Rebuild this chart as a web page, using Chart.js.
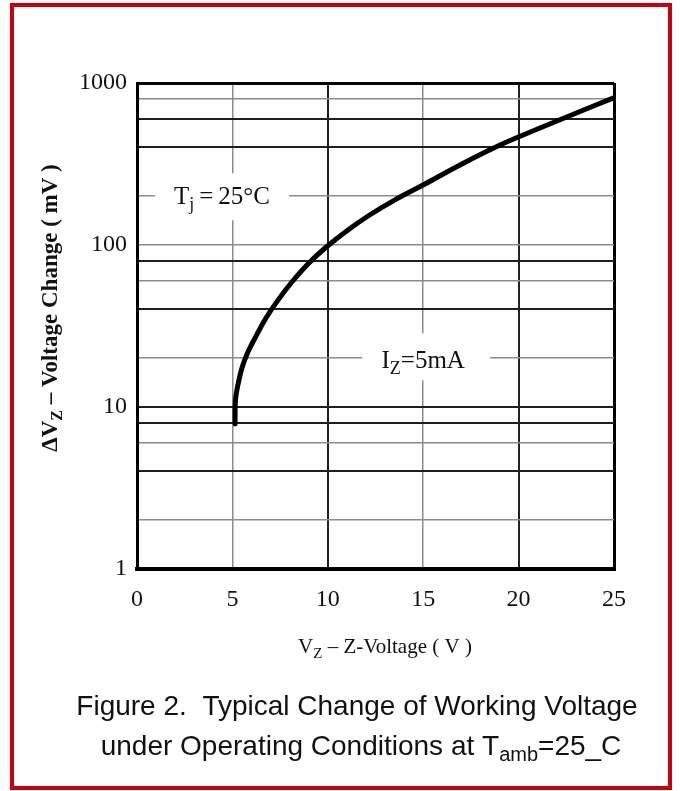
<!DOCTYPE html>
<html>
<head>
<meta charset="utf-8">
<script src="https://cdn.jsdelivr.net/npm/chart.js@4/dist/chart.umd.min.js"></script>
<style>
  html, body { margin: 0; padding: 0; background: #fff; }
  #wrap { position: relative; width: 680px; height: 791px; }
  canvas { display: block; }
</style>
</head>
<body>
<div id="wrap"><canvas id="c" width="680" height="791"></canvas></div>
<script>
// ---- data ----
const zenerVoltage = [5.14, 5.16, 5.29, 5.50, 5.82, 6.24, 6.76, 7.39, 8.12, 8.96, 9.86, 10.90, 12.11, 13.52, 15.09, 16.93, 19.03, 21.12, 23.22, 24.95];
const voltageChange = [7.85, 11.0, 13.7, 17.4, 21.9, 27.4, 35.4, 45.7, 59.1, 76.4, 95.8, 120, 151, 190, 238, 312, 414, 527, 667, 807];

const xTickValues = [0, 5, 10, 15, 20, 25];
const yGridValues = [1, 2, 4, 6, 8, 10, 20, 40, 60, 80, 100, 200, 400, 600, 800, 1000];
const yLabelValues = [1, 10, 100, 1000];

const yTitleParts = [{t: 'ΔV'}, {t: 'Z', sub: true}, {t: ' – Voltage Change ( mV )'}];
const xTitleParts = [{t: 'V'}, {t: 'Z', sub: true}, {t: ' – Z-Voltage ( V )'}];
const tjLabelParts = [{t: 'T'}, {t: 'j', sub: true}, {t: '\u2009=\u200925°C'}];
const izLabelParts = [{t: 'I'}, {t: 'Z', sub: true}, {t: '=5mA'}];
const captionLine1 = [{t: 'Figure 2.  Typical Change of Working Voltage'}];
const captionLine2 = [{t: 'under Operating Conditions at T'}, {t: 'amb', sub: true}, {t: '=25_C'}];

const darkY = [4, 8, 10, 40, 80, 400, 600];
const darkX = [10, 20];

const SERIF = '"Liberation Serif", "Times New Roman", serif';
const SANS = '"Liberation Sans", Arial, sans-serif';

function richWidth(ctx, parts, size, family, weight) {
  let w = 0;
  for (const p of parts) {
    const s = p.sub ? Math.round(size * 0.7) : size;
    ctx.font = `${weight} ${s}px ${family}`;
    w += ctx.measureText(p.t).width;
  }
  return w;
}
function drawRich(ctx, parts, x, y, size, family, weight, color) {
  const w = richWidth(ctx, parts, size, family, weight);
  let cx = x - w / 2;
  ctx.textAlign = 'left';
  ctx.textBaseline = 'alphabetic';
  ctx.fillStyle = color;
  for (const p of parts) {
    const s = p.sub ? Math.round(size * 0.7) : size;
    ctx.font = `${weight} ${s}px ${family}`;
    ctx.fillText(p.t, cx, y + (p.sub ? size * 0.22 : 0));
    cx += ctx.measureText(p.t).width;
  }
}

const decorPlugin = {
  id: 'decor',
  beforeDraw(chart) {
    const ctx = chart.ctx;
    ctx.save();
    ctx.fillStyle = '#fff';
    ctx.fillRect(0, 0, chart.width, chart.height);
    ctx.restore();
  },
  afterDraw(chart) {
    const ctx = chart.ctx;
    const xs = chart.scales.x, ys = chart.scales.y;
    ctx.save();
    // annotation labels with white backing boxes
    const tjX = xs.getPixelForValue(4.45), tjY = ys.getPixelForValue(200);
    ctx.fillStyle = '#fff';
    ctx.fillRect(tjX - 67, tjY - 23, 134, 47);
    drawRich(ctx, tjLabelParts, tjX, tjY + 8, 25, SERIF, 'normal', '#111');
    const izX = xs.getPixelForValue(15), izY = ys.getPixelForValue(20);
    ctx.fillStyle = '#fff';
    ctx.fillRect(izX - 61, izY - 25, 128, 47);
    drawRich(ctx, izLabelParts, izX, izY + 10, 25, SERIF, 'normal', '#111');

    // axis titles
    drawRich(ctx, xTitleParts, 385, 653, 21, SERIF, 'normal', '#111');
    ctx.save();
    ctx.translate(57, 308);
    ctx.rotate(-Math.PI / 2);
    drawRich(ctx, yTitleParts, 0, 0, 23, SERIF, 'bold', '#111');
    ctx.restore();

    // caption
    drawRich(ctx, captionLine1, 357, 715, 28, SANS, 'normal', '#111');
    drawRich(ctx, captionLine2, 361, 755, 28, SANS, 'normal', '#111');

    // red frame
    ctx.strokeStyle = '#c8000a';
    ctx.lineWidth = 4;
    ctx.strokeRect(12, 5, 658, 783);
    ctx.restore();
  }
};

new Chart(document.getElementById('c'), {
  type: 'line',
  data: {
    datasets: [{
      data: zenerVoltage.map((v, i) => ({x: v, y: voltageChange[i]})),
      borderColor: '#000',
      borderWidth: 5,
      pointRadius: 0,
      tension: 0.4,
      borderCapStyle: 'round',
      borderJoinStyle: 'round',
      fill: false
    }]
  },
  options: {
    responsive: false,
    devicePixelRatio: 1,
    animation: false,
    layout: { padding: { top: 83, right: 66, bottom: 0, left: 0 } },
    plugins: { legend: { display: false }, tooltip: { enabled: false }, title: { display: false } },
    scales: {
      x: {
        type: 'linear',
        min: 0, max: 25,
        afterBuildTicks(scale) { scale.ticks = xTickValues.map(v => ({value: v})); },
        afterFit(scale) { scale.height = 222; },
        ticks: {
          autoSkip: false, maxRotation: 0, padding: 16,
          color: '#111',
          font: { family: SERIF, size: 24 },
          callback: v => String(v)
        },
        grid: {
          drawTicks: false,
          color: c => (c.tick && (c.tick.value === 25 || c.tick.value === 0)) ? '#000' : (c.tick && darkX.includes(c.tick.value) ? '#222' : '#8c8c8c'),
          lineWidth: c => (c.tick && (c.tick.value === 25 || c.tick.value === 0)) ? 3 : (c.tick && darkX.includes(c.tick.value) ? 2 : 1.5)
        },
        border: { display: true, color: '#000', width: 4 }
      },
      y: {
        type: 'logarithmic',
        min: 1, max: 1000,
        afterBuildTicks(scale) { scale.ticks = yGridValues.map(v => ({value: v})); },
        afterFit(scale) { scale.width = 137; },
        ticks: {
          autoSkip: false, padding: 10,
          color: '#111',
          font: { family: SERIF, size: 24 },
          callback: v => yLabelValues.includes(v) ? String(v) : ''
        },
        grid: {
          drawTicks: false,
          color: c => (c.tick && (c.tick.value === 1000 || c.tick.value === 1)) ? '#000' : (c.tick && darkY.includes(c.tick.value) ? '#1e1e1e' : '#8c8c8c'),
          lineWidth: c => (c.tick && (c.tick.value === 1000 || c.tick.value === 1)) ? 3 : (c.tick && darkY.includes(c.tick.value) ? 2 : 1.5)
        },
        border: { display: true, color: '#000', width: 3 }
      }
    }
  },
  plugins: [decorPlugin]
});
</script>
</body>
</html>
